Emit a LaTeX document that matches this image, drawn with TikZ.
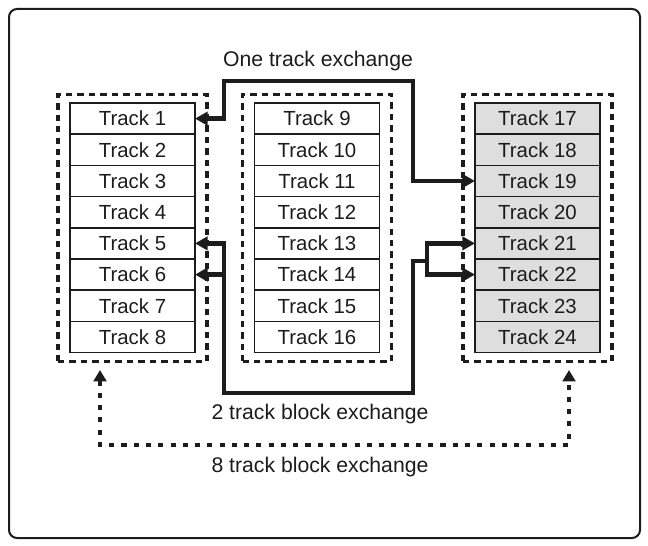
\documentclass[tikz,border=0pt]{standalone}
\usepackage{fontspec}
\setmainfont{Liberation Sans}
\usetikzlibrary{arrows.meta,positioning,fit}
\definecolor{TKink}{RGB}{28,28,28}
\definecolor{TKgray}{RGB}{222,222,222}
\tikzset{
  track/.style={draw=TKink,line width=1.1pt,minimum width=93.75pt,minimum height=23.4pt,
                inner sep=0pt,outer sep=0pt,text=TKink,font=\fontsize{15.3}{18}\selectfont},
  trackg/.style={track,fill=TKgray},
  grp/.style={draw=TKink,line width=2.3pt,dash pattern=on 4.8pt off 3.8pt,
              inner xsep=9pt,inner ysep=6.4pt},
  xch/.style={{Triangle[length=9.5pt,width=10pt]}-{Triangle[length=9.5pt,width=10pt]},
              line width=3.3pt,draw=TKink},
  xchl/.style={{Triangle[length=9.5pt,width=10pt]}-,line width=3.3pt,draw=TKink},
  blk/.style={{Triangle[length=8.5pt,width=9.5pt]}-{Triangle[length=8.5pt,width=9.5pt]},
              line width=3pt,draw=TKink,dash pattern=on 3.8pt off 5.4pt},
  lbl/.style={text=TKink,font=\fontsize{15.9}{18}\selectfont},
  frame/.style={draw=TKink,line width=1.5pt,rounded corners=6pt}
}
\begin{document}
\begin{tikzpicture}[x=0.75pt,y=-0.75pt]
  \useasboundingbox (0,0) rectangle (648,545);
  \draw[frame] (9,9) rectangle (640,538);

  % left column
  \node[track] (t1) at (132.5,118.6) {Track 1};
  \node[track,below=0pt of t1] (t2) {Track 2};
  \node[track,below=0pt of t2] (t3) {Track 3};
  \node[track,below=0pt of t3] (t4) {Track 4};
  \node[track,below=0pt of t4] (t5) {Track 5};
  \node[track,below=0pt of t5] (t6) {Track 6};
  \node[track,below=0pt of t6] (t7) {Track 7};
  \node[track,below=0pt of t7] (t8) {Track 8};
  % middle column
  \node[track] (t9) at (317,118.6) {Track 9};
  \node[track,below=0pt of t9] (t10) {Track 10};
  \node[track,below=0pt of t10] (t11) {Track 11};
  \node[track,below=0pt of t11] (t12) {Track 12};
  \node[track,below=0pt of t12] (t13) {Track 13};
  \node[track,below=0pt of t13] (t14) {Track 14};
  \node[track,below=0pt of t14] (t15) {Track 15};
  \node[track,below=0pt of t15] (t16) {Track 16};
  % right column
  \node[trackg] (t17) at (537.5,118.6) {Track 17};
  \node[trackg,below=0pt of t17] (t18) {Track 18};
  \node[trackg,below=0pt of t18] (t19) {Track 19};
  \node[trackg,below=0pt of t19] (t20) {Track 20};
  \node[trackg,below=0pt of t20] (t21) {Track 21};
  \node[trackg,below=0pt of t21] (t22) {Track 22};
  \node[trackg,below=0pt of t22] (t23) {Track 23};
  \node[trackg,below=0pt of t23] (t24) {Track 24};

  \node[grp,fit=(t1)(t8)] (gL) {};
  \node[grp,fit=(t9)(t16)] (gM) {};
  \node[grp,fit=(t17)(t24)] (gR) {};

  \node[lbl] (lone) at (318,61) {One track exchange};
  \node[lbl] (ltwo) at (320,414) {2 track block exchange};
  \node[lbl] (leight) at (320,467) {8 track block exchange};

  % one track
  \coordinate (ar) at (413,81);
  \coordinate (al) at (224,81);
  \draw[xch] (t19.west) -| (ar) -- (al) |- (t1.east);
  % 2 track block
  \coordinate (bl) at (224,393);
  \coordinate (br) at (413,393);
  \coordinate (bj) at (427,261);
  \draw[xchl] (t5.east) -| (bl) -- (br) |- (bj);
  \draw[xchl] (t6.east) -- (t6.east -| bl);
  \draw[xch] (t21.west) -- (t21.west -| bj) -- (t22.west -| bj) -- (t22.west);
  % 8 track block
  \coordinate (cl) at (100,370);
  \coordinate (cr) at (569,370);
  \draw[blk] (cl) -- (100,445) -- (569,445) -- (cr);
\end{tikzpicture}
\end{document}
